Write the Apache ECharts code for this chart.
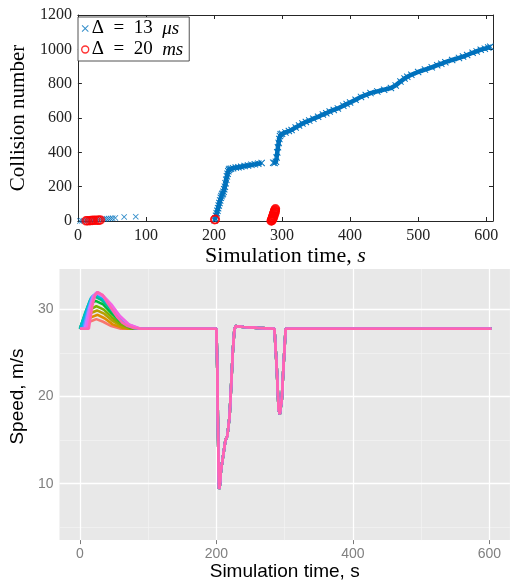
<!DOCTYPE html>
<html><head><meta charset="utf-8">
<script src="https://cdn.jsdelivr.net/npm/echarts@6/dist/echarts.min.js"></script>
<style>html,body{margin:0;padding:0;background:#fff}#c{width:510px;height:582px}</style>
</head><body><div id="c"></div>
<script>
// ================= TOP PANEL DATA (Collision number vs time) =================
const topXTicks = [0, 100, 200, 300, 400, 500, 600];
const topYTicks = [0, 200, 400, 600, 800, 1000, 1200];
// Δ = 13 µs : sparse early collisions
const blueSparse = [[3,0],[6,1],[9,2],[12,3],[15,3],[18,4],[21,5],[24,6],[27,7],[30,8],[33,9],[36,10],[39,12],[42,13],[45,14],[48,15],[51,16],[55,18],[68,24],[85,25]];
// Δ = 13 µs : dense runs (first run)
const blueRunA = [[201,5],[202,15],[203,30],[204,45],[205,60],[206,75],[207,90],[208,105],[209,120],[210,135],[211,145],[212,155],[213,160],[214,170],[215,185],[216,200],[217,220],[218,240],[219,260],[220,275],[221,290],[222,298],[223,303],[225,305],[228,308],[232,311],[236,313],[240,316],[245,320],[250,323],[255,327],[260,330],[265,334],[270,338]];
// Δ = 13 µs : dense runs (second run)
const blueRunB = [[287,340],[289,338],[291,345],[292,370],[293,400],[294,430],[295,455],[296,478],[297,495],[298,505],[300,508],[305,516],[310,524],[314,530],[320,545],[325,556],[330,568],[335,577],[340,585],[346,596],[353,607],[360,620],[365,628],[370,638],[376,647],[382,656],[390,672],[395,681],[400,690],[408,706],[416,723],[423,734],[430,745],[440,755],[450,765],[460,775],[467,790],[474,812],[480,830],[484,840],[490,852],[500,868],[510,882],[520,895],[528,908],[534,916],[540,925],[550,938],[560,950],[566,958],[572,967],[580,980],[586,988],[592,998],[598,1004],[603,1010],[606,1015]];
// Δ = 20 ms
const redPoints = [[12,1],[14,2],[17,2],[19,3],[21,3],[23,4],[26,4],[29,5],[31,5],[33,6],[201,8],[202,10],
  [284,0],[284.5,3],[285,7],[285.3,11],[285.6,15],[286,19],[286.3,23],[286.7,27],[287,31],[287.3,35],[287.6,39],[288,43],[288.3,47],[288.7,51],[289,55],[289.3,59],[289.7,63],[290,67],[290.3,71],[285,2],[286,9],[287,17],[288,29],[289,41],[290,53]];

// ================= BOTTOM PANEL DATA (Speed vs time) =================
const bottomXTicks = [0, 200, 400, 600];
const bottomYTicks = [10, 20, 30];
const runColors = ['#F8766D','#DE8C00','#B79F00','#7CAE00','#00BA38','#00C08B','#00BFC4','#00B4F0','#619CFF','#C77CFF','#F564E3','#FF64B0'];
// initial acceleration bump of each vehicle run (time s, speed m/s)
const bumpRuns = [
  [[0,27.8],[6,28.2],[14,28.6],[24,28.9],[34,28.6],[46,28.1],[60,27.8],[90,27.8]],
  [[0,27.8],[1,27.8],[8,28.5],[16,29.1],[26,29.4],[36,29.0],[48,28.3],[62,27.9],[72,27.8],[90,27.8]],
  [[0,27.8],[8,28.8],[16,29.6],[25,29.9],[36,29.5],[48,28.7],[62,28.0],[74,27.8],[90,27.8]],
  [[0,27.8],[7,29.0],[15,30.0],[24,30.4],[35,30.0],[47,29.1],[60,28.3],[76,27.8],[90,27.8]],
  [[0,27.8],[8,29.5],[15,30.7],[23,31.0],[34,30.6],[46,29.6],[58,28.7],[72,28.0],[82,27.8],[90,27.8]],
  [[0,27.8],[8,29.7],[15,31.1],[22,31.5],[32,31.1],[44,30.1],[56,29.0],[68,28.2],[82,27.8],[90,27.8]],
  [[0,27.8],[1,27.8],[9,29.8],[16,31.3],[23,31.7],[33,31.3],[44,30.3],[56,29.2],[68,28.3],[84,27.8],[90,27.8]],
  [[0,27.8],[3,27.8],[11,30.0],[17,31.4],[24,31.8],[33,31.4],[45,30.4],[57,29.2],[70,28.3],[86,27.8],[90,27.8]],
  [[0,27.8],[5,27.8],[12,30.0],[18,31.5],[24,31.9],[34,31.5],[45,30.5],[57,29.3],[70,28.3],[87,27.8],[90,27.8]],
  [[0,27.8],[7,27.8],[14,30.2],[19,31.5],[25,31.9],[34,31.5],[46,30.5],[58,29.3],[71,28.3],[88,27.8],[90,27.8]],
  [[0,27.8],[10,27.8],[16,30.3],[21,31.6],[25,32.0],[34,31.6],[46,30.6],[58,29.3],[72,28.3],[89,27.8],[90,27.8]],
  [[0,27.8],[13,27.8],[18,30.4],[22,31.6],[26,32.0],[33,31.7],[41,30.7],[48,29.9],[55,29.1],[62,28.5],[70,28.1],[80,27.85],[90,27.8]]
];
// common part of all runs after the initial bump
const commonTail = [[100,27.8],[200,27.8],[200.5,27.6],[201.3,23],[202,17.8],[203,12.5],[203.8,9.4],[205,9.8],[206.6,11.5],[210,13.3],[213.2,15.0],[216,15.5],[218,15.7],[219.3,17.8],[221.7,21.5],[224,25.2],[226.3,27.7],[228,28.1],[240,28.0],[260,27.9],[285,27.8],[288.3,23.4],[291.1,18.5],[292.9,18.0],[295.8,19.7],[298.2,23.4],[301.4,27.8],[350,27.8],[603,27.8]];
const bottomMajorX = [0, 200, 400, 600], bottomMinorX = [100, 300, 500];
const bottomMajorY = [10, 20, 30], bottomMinorY = [5, 15, 25];

// ================= CHART =================
const serif = 'Liberation Serif';
const sans = 'Liberation Sans';
const xMark = 'path://M0,1L1,0L5,4L9,0L10,1L6,5L10,9L9,10L5,6L1,10L0,9L4,5Z';
const axisDark = '#262626';

const gridLines = [];
bottomMinorX.forEach(v => gridLines.push({xAxis: v, lineStyle: {color: '#F3F3F3', width: 0.7, type: 'solid'}}));
bottomMinorY.forEach(v => gridLines.push({yAxis: v, lineStyle: {color: '#F3F3F3', width: 0.7, type: 'solid'}}));
bottomMajorX.forEach(v => gridLines.push({xAxis: v, lineStyle: {color: '#FFFFFF', width: 1.3, type: 'solid'}}));
bottomMajorY.forEach(v => gridLines.push({yAxis: v, lineStyle: {color: '#FFFFFF', width: 1.3, type: 'solid'}}));

const speedSeries = bumpRuns.map((run, i) => ({
  type: 'line', xAxisIndex: 2, yAxisIndex: 2, z: 3,
  data: run.concat(commonTail), showSymbol: false, symbol: 'none',
  lineStyle: {color: runColors[i], width: 2.6}, silent: true, animation: false
}));

const option = {
  animation: false,
  backgroundColor: '#fff',
  grid: [
    {left: 75, top: 15, width: 418, height: 206, show: false},
    {left: 43.1, top: 269, width: 466.8, height: 278.7, show: true, backgroundColor: '#E8E8E8', borderWidth: 0, z: 0}
  ],
  legend: {
    left: 78, top: 17, orient: 'vertical',
    backgroundColor: '#fff', borderColor: axisDark, borderWidth: 0.8,
    padding: [2, 6, 2, 3], itemGap: 2, itemWidth: 7, itemHeight: 7,
    data: [
      {name: 'd13', icon: xMark, itemStyle: {color: '#0072BD'}},
      {name: 'd20', icon: 'circle', itemStyle: {color: 'rgba(0,0,0,0)', borderColor: '#FF0000', borderWidth: 1.4}}
    ],
    formatter: n => n === 'd13' ? '{t|Δ  =  13  }{i|μs}' : '{t|Δ  =  20  }{i|ms}',
    textStyle: {
      padding: [0, 0, 0, -2],
      rich: {
        t: {fontFamily: serif, fontSize: 19, color: '#000', lineHeight: 25},
        i: {fontFamily: serif, fontSize: 19, fontStyle: 'italic', color: '#000', lineHeight: 25}
      }
    }
  },
  xAxis: [
    {gridIndex: 0, type: 'value', min: 0, max: 610, interval: 100, position: 'bottom',
      name: '{r|Simulation time, }{i|s}', nameLocation: 'middle', nameGap: 18,
      nameTextStyle: {rich: {r: {fontFamily: serif, fontSize: 22, color: '#000'}, i: {fontFamily: serif, fontSize: 22, fontStyle: 'italic', color: '#000'}}},
      axisLine: {show: true, onZero: false, lineStyle: {color: axisDark, width: 1}},
      axisTick: {show: true, inside: true, length: 4, lineStyle: {color: axisDark}},
      axisLabel: {fontFamily: serif, fontSize: 16, color: '#222', margin: 7, showMaxLabel: false, formatter: v => String(v)},
      splitLine: {show: false}},
    {gridIndex: 0, type: 'value', min: 0, max: 610, interval: 100, position: 'top',
      axisLine: {show: true, onZero: false, lineStyle: {color: axisDark, width: 1}},
      axisTick: {show: true, inside: true, length: 4, lineStyle: {color: axisDark}},
      axisLabel: {show: false}, splitLine: {show: false}},
    {gridIndex: 1, type: 'value', min: -30, max: 630,
      name: 'Simulation time, s', nameLocation: 'middle', nameGap: 17,
      nameTextStyle: {fontFamily: sans, fontSize: 19, color: '#000'},
      axisLine: {show: false},
      axisTick: {show: true, length: 4, customValues: bottomXTicks, lineStyle: {color: '#7a7a7a', width: 1}},
      axisLabel: {fontFamily: sans, fontSize: 14, color: '#808080', margin: 7, customValues: bottomXTicks},
      splitLine: {show: false}}
  ],
  yAxis: [
    {gridIndex: 0, type: 'value', min: 0, max: 1200, interval: 200, position: 'left',
      name: 'Collision number', nameLocation: 'middle', nameGap: 41,
      nameTextStyle: {fontFamily: serif, fontSize: 21, color: '#000'},
      axisLine: {show: true, onZero: false, lineStyle: {color: axisDark, width: 1}},
      axisTick: {show: true, inside: true, length: 4, lineStyle: {color: axisDark}},
      axisLabel: {fontFamily: serif, fontSize: 16, color: '#222', margin: 6, formatter: v => String(v)},
      splitLine: {show: false}},
    {gridIndex: 0, type: 'value', min: 0, max: 1200, interval: 200, position: 'right',
      axisLine: {show: true, onZero: false, lineStyle: {color: axisDark, width: 1}},
      axisTick: {show: true, inside: true, length: 4, lineStyle: {color: axisDark}},
      axisLabel: {show: false}, splitLine: {show: false}},
    {gridIndex: 1, type: 'value', min: 3.52, max: 34.66,
      name: 'Speed, m/s', nameLocation: 'middle', nameGap: 20,
      nameTextStyle: {fontFamily: sans, fontSize: 19, color: '#000', padding: [0, 0, 0, 16]},
      axisLine: {show: false},
      axisTick: {show: true, length: 4, customValues: bottomYTicks, lineStyle: {color: '#7a7a7a', width: 1}},
      axisLabel: {fontFamily: sans, fontSize: 14, color: '#808080', margin: 6, customValues: bottomYTicks},
      splitLine: {show: false}}
  ],
  series: [
    {name: 'd13', type: 'scatter', xAxisIndex: 0, yAxisIndex: 0, z: 3,
      data: blueSparse, symbol: xMark, symbolSize: 6, itemStyle: {color: '#0072BD'}},
    {name: 'd13', type: 'line', xAxisIndex: 0, yAxisIndex: 0, z: 3,
      data: blueRunA.concat([[null, null]], blueRunB), connectNulls: false,
      symbol: xMark, symbolSize: 7, showSymbol: true, showAllSymbol: true,
      itemStyle: {color: '#0072BD'}, lineStyle: {color: '#0072BD', width: 4.5}},
    {name: 'd20', type: 'scatter', xAxisIndex: 0, yAxisIndex: 0, z: 4,
      data: redPoints, symbol: 'circle', symbolSize: 8,
      itemStyle: {color: 'rgba(0,0,0,0)', borderColor: '#FF0000', borderWidth: 1.5}},
    {type: 'line', xAxisIndex: 2, yAxisIndex: 2, z: 1, data: [], silent: true,
      markLine: {silent: true, z: 1, symbol: ['none', 'none'], label: {show: false}, animation: false, data: gridLines}}
  ].concat(speedSeries)
};

const chart = echarts.init(document.getElementById('c'), null, {renderer: 'canvas'});
chart.setOption(option);
</script>
</body></html>
